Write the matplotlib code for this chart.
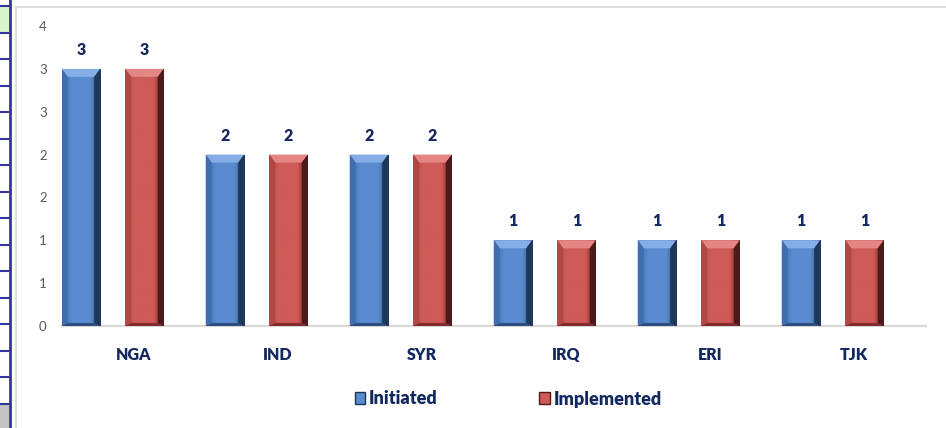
import matplotlib
matplotlib.use('Agg')
import matplotlib.pyplot as plt
import numpy as np
from matplotlib.patches import Polygon, Rectangle, Patch
from matplotlib.lines import Line2D
from matplotlib.colors import LinearSegmentedColormap

plt.rcParams['font.family'] = ['Lato', 'DejaVu Sans']

# Datos del gráfico
paises = ['NGA', 'IND', 'SYR', 'IRQ', 'ERI', 'TJK']
iniciados = [3, 2, 2, 1, 1, 1]
implementados = [3, 2, 2, 1, 1, 1]
series = ['Initiated', 'Implemented']
y_ticks = [0, 0.5, 1, 1.5, 2, 2.5, 3, 3.5]
y_tick_labels = ['0', '1', '1', '2', '2', '3', '3', '4']

AZUL = '#4f81bd'
ROJO = '#c0504d'
NAVY = '#12285e'
PESO = 'heavy'

# colores del bisel: (cara, arriba, izquierda, derecha, abajo)
bisel = {
    AZUL: ('#5a8bd0', '#86aee6', '#3f6db0', '#1e3658', '#2c4f80'),
    ROJO: ('#cf5b58', '#e48684', '#b24846', '#4e1b1a', '#7e2d2c'),
}


def dibujar_bisel(ax, barra, color):
    """Pinta una barra con aspecto de bisel (estilo Excel)."""
    x0 = barra.get_x()
    w = barra.get_width()
    h = barra.get_height()
    x1 = x0 + w
    # tamaño del bisel en unidades de datos (aprox. 6 px y 8 px)
    bx = 6 / 144.0
    bt = 8 / 85.7
    bb = 3 / 85.7
    cara, arriba, izq, der, abajo = bisel[color]

    # cara con un degradado horizontal suave
    grad = np.linspace(0, 1, 64).reshape(1, -1)
    cmap = LinearSegmentedColormap.from_list('c', [izq, cara, cara, cara, der])
    im = ax.imshow(grad, extent=(x0, x1, 0, h), aspect='auto', cmap=cmap,
                   zorder=3, interpolation='bicubic')
    im.set_clip_path(barra)

    ax.add_patch(Polygon([(x0, h), (x1, h), (x1 - bx, h - bt), (x0 + bx, h - bt)],
                         closed=True, facecolor=arriba, edgecolor='none', zorder=4))
    ax.add_patch(Polygon([(x1, h), (x1, 0), (x1 - bx, bb), (x1 - bx, h - bt)],
                         closed=True, facecolor=der, edgecolor='none', zorder=4))
    ax.add_patch(Polygon([(x0, h), (x0 + bx, h - bt), (x0 + bx, bb), (x0, 0)],
                         closed=True, facecolor=izq, edgecolor='none', zorder=4))
    ax.add_patch(Polygon([(x0, 0), (x0 + bx, bb), (x1 - bx, bb), (x1, 0)],
                         closed=True, facecolor=abajo, edgecolor='none', zorder=4))


fig = plt.figure(figsize=(9.46, 4.28), dpi=100)

# fondo: franja de hoja de cálculo a la izquierda y borde del gráfico
bg = fig.add_axes([0, 0, 1, 1], zorder=0)
bg.set_xlim(0, 946)
bg.set_ylim(428, 0)
bg.axis('off')
bg.add_patch(Rectangle((0, 6), 9, 26.5, facecolor='#d6f5cf', edgecolor='none'))
bg.add_patch(Rectangle((0, 403.5), 9, 25, facecolor='#c4c4c4', edgecolor='none'))
for k in range(16):
    yk = 6 + 26.5 * k
    bg.add_line(Line2D([0, 9], [yk, yk], color='#3535a0', lw=1.5))
bg.add_line(Line2D([9.5, 9.5], [0, 428], color='#3535a0', lw=2))
bg.add_line(Line2D([16, 16], [7, 428], color='#d9d9d9', lw=1.2))
bg.add_line(Line2D([16, 946], [7, 7], color='#d9d9d9', lw=1.2))

ax = fig.add_axes([62 / 946, 102 / 428, 864 / 946, 300 / 428], zorder=1)
ax.patch.set_alpha(0)

x = np.arange(len(paises))
ancho = 38.5 / 144
b1 = ax.bar(x + 19 / 144, iniciados, ancho, color=AZUL, zorder=2, label=series[0])
b2 = ax.bar(x + 82.5 / 144, implementados, ancho, color=ROJO, zorder=2, label=series[1])

for barras, color in ((b1, AZUL), (b2, ROJO)):
    for barra in barras:
        dibujar_bisel(ax, barra, color)
    for barra in barras:
        ax.annotate(f'{barra.get_height():.0f}',
                    (barra.get_x() + barra.get_width() / 2, barra.get_height()),
                    xytext=(0, 11), textcoords='offset pixels',
                    ha='center', va='bottom', fontsize=11.5, fontweight=PESO,
                    color=NAVY)

ax.set_xlim(0, len(paises))
ax.set_ylim(0, 3.5)
ax.set_xticks(x + 0.5)
ax.set_xticklabels(paises, fontsize=11.5, fontweight=PESO, color=NAVY)
ax.set_yticks(y_ticks)
ax.set_yticklabels(y_tick_labels, fontsize=9.5, color='#595959')
ax.tick_params(axis='both', length=0)
ax.tick_params(axis='y', pad=11)
ax.tick_params(axis='x', pad=15)
for lado in ('top', 'right', 'left'):
    ax.spines[lado].set_visible(False)
ax.spines['bottom'].set_color('#d9d9d9')
ax.spines['bottom'].set_linewidth(1.6)
ax.spines['bottom'].set_zorder(1)

handles = [Patch(facecolor=bisel[AZUL][0], edgecolor=bisel[AZUL][3], lw=1.0),
           Patch(facecolor=bisel[ROJO][0], edgecolor=bisel[ROJO][3], lw=1.0)]
fig.legend(handles, series, loc='center', bbox_to_anchor=(508 / 946, 1 - 399 / 428),
           ncol=2, frameon=False, handlelength=0.6, handleheight=0.6,
           handletextpad=0.2, columnspacing=5.6,
           prop={'weight': PESO, 'size': 13})
for t in fig.legends[0].get_texts():
    t.set_color(NAVY)

fig.savefig('out.png', dpi=100)
